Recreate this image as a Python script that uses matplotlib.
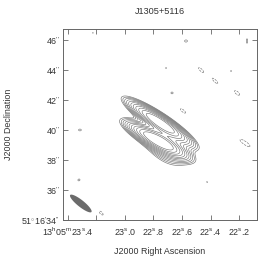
import numpy as np
import matplotlib
matplotlib.use('Agg')
import matplotlib.pyplot as plt

plt.rcParams['font.family'] = ['Liberation Sans', 'DejaVu Sans']
plt.rcParams['mathtext.fontset'] = 'custom'
plt.rcParams['mathtext.rm'] = 'Liberation Sans'
plt.rcParams['mathtext.it'] = 'Liberation Sans'

# source components: RA (s), Dec (arcsec past 51d16m), amp, sig_maj ("), sig_min ("), angle (deg)
src_ra = [22.754, 22.775, 22.72]
src_dec = [40.47, 39.33, 38.9]
src_amp = [1.0, 0.95, 0.18]
src_smaj = [1.25, 1.15, 1.0]
src_smin = [0.27, 0.29, 0.55]
src_pa = [-34, -29, -40]

# noise blobs
noise_ra = [22.572, 22.144, 22.712, 22.256, 22.670, 23.225, 23.316, 23.323, 23.211, 22.424,
            22.467, 22.368, 22.214, 22.593, 22.158, 23.168, 22.245]
noise_dec = [45.93, 45.93, 44.13, 43.93, 42.47, 46.47, 40.0, 36.67, 34.73, 36.53,
             44.0, 43.27, 42.47, 41.27, 39.13, 34.47, 42.30]
noise_amp = [0.06, 0.06, 0.055, 0.055, 0.06, 0.055, 0.06, 0.06, 0.06, 0.055,
             -0.06, -0.06, -0.06, -0.06, -0.06, -0.06, 0.055]
noise_smaj = [0.15, 0.25, 0.08, 0.08, 0.12, 0.06, 0.15, 0.12, 0.15, 0.08,
              0.35, 0.40, 0.35, 0.35, 0.65, 0.30, 0.08]
noise_smin = [0.12, 0.07, 0.06, 0.06, 0.10, 0.05, 0.10, 0.10, 0.12, 0.05,
              0.12, 0.12, 0.15, 0.12, 0.18, 0.12, 0.06]
noise_pa = [0, 90, 0, 0, 0, 0, 0, 30, 0, -40,
            -45, -45, -40, -40, -35, -45, 0]

# beam
beam_ra, beam_dec = 23.31, 35.1
beam_maj, beam_min, beam_pa = 1.80, 0.45, -39

levels_pos = 0.05 * 1.3 ** np.arange(11)
levels = np.concatenate(([-0.05], levels_pos))

cosd = 15 * np.cos(np.radians(51 + 16 / 60 + 40 / 3600))

ra = np.linspace(22.05, 23.45, 600)
dec = np.linspace(33.8, 46.9, 600)
RA, DEC = np.meshgrid(ra, dec)
X = (23.4 - RA) * cosd
Y = DEC


def gauss(r0, d0, a, smaj, smin, pa):
    x0 = (23.4 - r0) * cosd
    t = np.radians(pa)
    u = (X - x0) * np.cos(t) + (Y - d0) * np.sin(t)
    v = -(X - x0) * np.sin(t) + (Y - d0) * np.cos(t)
    return a * np.exp(-0.5 * ((u / smaj) ** 2 + (v / smin) ** 2))


Z = np.zeros_like(X)
for i in range(len(src_ra)):
    Z += gauss(src_ra[i], src_dec[i], src_amp[i], src_smaj[i], src_smin[i], src_pa[i])
for i in range(len(noise_ra)):
    Z += gauss(noise_ra[i], noise_dec[i], noise_amp[i], noise_smaj[i], noise_smin[i], noise_pa[i])

fig = plt.figure(figsize=(2.75, 2.63), dpi=100)
ax = fig.add_axes([0.229, 0.1635, 0.7055, 0.7262])
ax.contour(RA, DEC, Z, levels=levels, colors='0.45', linewidths=0.45)

# beam drawn in arcsec, converted to RA seconds on x
t = np.linspace(0, 2 * np.pi, 100)
th = np.radians(beam_pa)
bu = 0.5 * beam_maj * np.cos(t)
bv = 0.5 * beam_min * np.sin(t)
bx = bu * np.cos(th) - bv * np.sin(th)
by = bu * np.sin(th) + bv * np.cos(th)
ax.fill(beam_ra - bx / cosd, beam_dec + by, color='0.42', lw=0)

ax.set_xlim(23.435, 22.074)
ax.set_ylim(34, 46.73)

xt = [23.4, 23.2, 23.0, 22.8, 22.6, 22.4, 22.2]
xl = [r'13$^{\rm h}$05$^{\rm m}$23$^{\rm s}$.4', '', r'23$^{\rm s}$.0', r'22$^{\rm s}$.8',
      r'22$^{\rm s}$.6', r'22$^{\rm s}$.4', r'22$^{\rm s}$.2']
yt = [34, 36, 38, 40, 42, 44, 46]
yl = [r"51$^{\circ}$16$'$34$''$"] + [r"%d$''$" % v for v in yt[1:]]
ax.set_xticks(xt)
ax.set_xticklabels(xl)
ax.set_yticks(yt)
ax.set_yticklabels(yl)

tc = '#333333'
fs = 6.4
ax.tick_params(direction='in', length=3.5, width=0.6, top=True, right=True,
               labelsize=fs, colors='0.4', labelcolor=tc)
ax.tick_params(axis='x', pad=4)
ax.tick_params(axis='y', pad=2)
for s in ax.spines.values():
    s.set_color('0.4')
    s.set_linewidth(0.7)

fig.text(160 / 275, 1 - 12 / 263, 'J1305+5116', fontsize=fs + 0.2, color=tc,
         ha='center', va='center')
ax.set_xlabel('J2000 Right Ascension', fontsize=fs, color=tc)
ax.set_ylabel('J2000 Declination', fontsize=fs, color=tc)
ax.xaxis.set_label_coords(0.5, -0.141)
ax.yaxis.set_label_coords(-0.258, 0.5)

fig.savefig('out.png', dpi=100)
